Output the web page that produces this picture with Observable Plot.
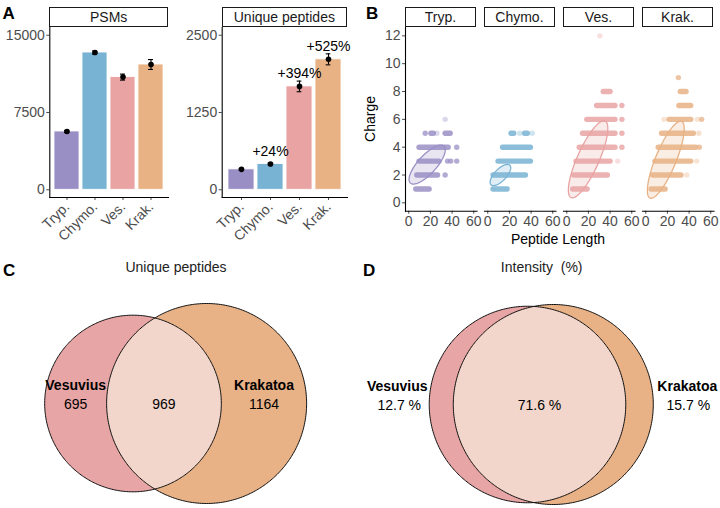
<!DOCTYPE html>
<html><head><meta charset="utf-8">
<script src="https://cdn.jsdelivr.net/npm/d3@7"></script>
<script src="https://cdn.jsdelivr.net/npm/@observablehq/plot@0.6"></script>
<style>
body{margin:0;background:#fff;}
#fig{position:relative;width:720px;height:508px;font-family:"Liberation Sans",Arial,sans-serif;overflow:hidden;background:#fff;}
#fig svg{position:absolute;}
.strip{position:absolute;box-sizing:border-box;border:1px solid #1a1a1a;background:#fff;font-size:14px;color:#1a1a1a;text-align:center;line-height:18px;height:20px;top:7px;}
.letter{position:absolute;font-weight:bold;font-size:17px;line-height:17px;color:#000;}
.txt{position:absolute;font-size:14px;line-height:14px;color:#000;white-space:nowrap;}
</style></head>
<body><div id="fig"></div>
<script>
// ---------- DATA ----------
const cats = ["Tryp.", "Chymo.", "Ves.", "Krak."];
const catColors = ["#9A8FC5", "#78B3D3", "#E9A3A3", "#E8B285"];
const psmMean = [5657, 13321, 10934, 12157];
const psmErr = [100, 150, 290, 480];
const pepMean = [330, 417, 1672, 2110];
const pepErr = [15, 15, 86, 89];
const pepLabel = ["", "+24%", "+394%", "+525%"];
const psmTicks = [0, 7500, 15000];
const pepTicks = [0, 1250, 2500];

// Panel B: charge bands [facet, charge, lengthFrom, lengthTo]
const chargeBands = [
  [0,1,6.5,18.8],[0,2,7.4,26.6],[0,3,9.5,27.9],[0,4,9.5,36.4],[0,5,20.5,22.7],[0,5,33.6,38.2],
  [1,1,4.9,17.9],[1,2,4.9,34.8],[1,3,9.5,39.4],[1,4,13.7,39.4],[1,5,21.5,24],[1,5,34,36.5],
  [2,1,5.5,18.8],[2,2,6.4,37.5],[2,3,8.5,40],[2,4,11.5,44.5],[2,5,14.6,44.5],[2,6,18.5,44.5],[2,7,27.6,44.5],[2,8,33.7,40],
  [3,1,4.9,17.9],[3,2,6.4,32.5],[3,3,8.5,41.5],[3,4,11.5,46],[3,5,14.6,44],[3,6,21.5,41.5],[3,7,30.6,41.5],[3,8,31.9,37.2]
];
// isolated points [facet, charge, length, opacity]
const chargePoints = [
  [0,2,33.6,0.75],[0,3,35.8,0.75],[0,3,38.8,0.75],[0,3,44.3,0.75],[0,4,44.3,0.75],[0,5,15.2,0.75],[0,5,26,0.35],[0,6,33.6,0.35],
  [1,5,29.5,0.35],[1,5,41,0.35],
  [2,3,47,0.35],[2,4,50.9,0.8],[2,5,50.9,0.8],[2,6,50.9,0.8],[2,7,50.9,0.8],[2,12,30.6,0.35],
  [3,2,37.9,0.35],[3,3,47,0.35],[3,4,49.5,0.75],[3,5,49,0.4],[3,6,16.8,0.35],[3,6,47.5,0.35],[3,6,51.6,0.75],[3,9,30.1,0.75]
];
const ellCenterX = [17, 11.7, 19.7, 18.5];
const ellCenterY = [2.75, 2.0, 3.13, 3.1];
const ellHalfX = [16.7, 9.5, 18.2, 17];
const ellHalfY = [1.4, 0.76, 2.77, 2.77];
const ellRho = [0.76, 0.68, 0.8, 0.8];
const lengthTicks = [0, 20, 40, 60];
const chargeTicks = [0, 2, 4, 6, 8, 10, 12];

// Panels C/D: Venn
const vennNames = ["Vesuvius", "Krakatoa"];
const pepOnly = [695, 1164];
const pepShared = 969;
const intOnly = [12.7, 15.7];
const intShared = 71.6;
const vennFill = ["#E8A5A5", "#E8B286"];
const lensFill = "#F2D6CC";

// ---------- HELPERS ----------
const fig = document.getElementById("fig");
const FONT = "Liberation Sans, Arial, sans-serif";
function place(svg, left, top) { svg.style.left = left + "px"; svg.style.top = top + "px"; fig.appendChild(svg); }
function html(cls, text, css) { const d = document.createElement("div"); d.className = cls; d.textContent = text; Object.assign(d.style, css); fig.appendChild(d); return d; }
const baseStyle = {background: "transparent", fontFamily: FONT, fontSize: "14px", color: "#4D4D4D", overflow: "visible"};

// ---------- PANEL A ----------
function barPanel(means, errs, labels, ticks, left, areaL, areaR, title) {
  const data = cats.map((c, i) => ({cat: c, mean: means[i], err: errs[i], label: labels ? labels[i] : "", color: catColors[i]}));
  const top = ticks[ticks.length - 1];
  const W = areaR - areaL, ml = areaL - left, mr = 3;
  const bw = W / 4.2 * 0.9, inset = (bw - 5.5) / 2;
  const svg = Plot.plot({
    width: ml + W + mr, height: 240, marginLeft: ml, marginRight: mr, marginTop: 27, marginBottom: 43,
    style: baseStyle,
    x: {domain: cats, paddingInner: 0.1, paddingOuter: 0.15, tickRotate: -45, tickSize: 3, tickPadding: 4, label: null},
    y: {domain: [-top * 0.05, top * 1.05], ticks: ticks, tickFormat: d => String(d), tickSize: 3, tickPadding: 2, label: null},
    color: {type: "identity"},
    marks: [
      Plot.barY(data, {x: "cat", y: "mean", fill: "color", stroke: "white", strokeWidth: 0.8}),
      Plot.ruleX(data, {x: "cat", y1: d => d.mean - d.err, y2: d => d.mean + d.err, stroke: "black", strokeWidth: 1.1}),
      Plot.tickY(data, {x: "cat", y: d => d.mean - d.err, insetLeft: inset, insetRight: inset, stroke: "black", strokeWidth: 1.1}),
      Plot.tickY(data, {x: "cat", y: d => d.mean + d.err, insetLeft: inset, insetRight: inset, stroke: "black", strokeWidth: 1.1}),
      Plot.dot(data, {x: "cat", y: "mean", r: 2.8, fill: "black"}),
      Plot.text(data.filter(d => d.label), {x: "cat", y: "mean", text: "label", dy: -12.5, fill: "black", fontSize: 14}),
      Plot.frame({anchor: "left", stroke: "black", strokeWidth: 1.1}),
      Plot.frame({anchor: "bottom", stroke: "black", strokeWidth: 1.1})
    ]
  });
  place(svg, left, 0);
  html("strip", title, {left: areaL + "px", width: (W) + "px"});
}
barPanel(psmMean, psmErr, null, psmTicks, 0, 49.3, 168, "PSMs");
barPanel(pepMean, pepErr, pepLabel, pepTicks, 172, 221.7, 347, "Unique peptides");

// ---------- PANEL B ----------
for (let k = 0; k < 4; k++) {
  const areaL = 404.7 + 79 * k, W = 71.5, ml = 50, mr = 12;
  const col = catColors[k];
  const bands = chargeBands.filter(d => d[0] === k);
  const pts = chargePoints.filter(d => d[0] === k);
  const ell = d3.range(0, 360, 3).map(a => {
    const t = a * Math.PI / 180;
    return {x: ellCenterX[k] + ellHalfX[k] * Math.cos(t),
            y: ellCenterY[k] + ellHalfY[k] * (ellRho[k] * Math.cos(t) + Math.sqrt(1 - ellRho[k] ** 2) * Math.sin(t))};
  });
  const marks = [
    Plot.link(bands, {x1: d => d[2], x2: d => d[3], y1: d => d[1], y2: d => d[1], stroke: col, strokeWidth: 5.4, strokeLinecap: "round", strokeOpacity: 0.85}),
    Plot.dot(pts, {x: d => d[2], y: d => d[1], r: 2.7, fill: col, fillOpacity: d => d[3], stroke: "none"}),
    Plot.line(ell, {x: "x", y: "y", curve: "linear-closed", fill: col, fillOpacity: 0.22, stroke: col, strokeWidth: 1.3}),
    Plot.frame({anchor: "bottom", stroke: "black", strokeWidth: 1.1})
  ];
  if (k === 0) marks.push(Plot.frame({anchor: "left", stroke: "black", strokeWidth: 1.1}));
  const svg = Plot.plot({
    width: ml + W + mr, height: 235, marginLeft: ml, marginRight: mr, marginTop: 27, marginBottom: 24.3,
    style: baseStyle,
    x: {domain: [-3, 63], ticks: lengthTicks, tickSize: 3, tickPadding: 2, label: null},
    y: {domain: [-0.6, 12.6], ticks: chargeTicks, tickSize: 3, tickPadding: 2, label: null, axis: k === 0 ? "left" : null},
    marks
  });
  place(svg, areaL - ml, 0);
  html("strip", cats[k], {left: areaL + "px", width: W + "px"});
}
html("txt", "Charge", {left: "370px", top: "119px", transform: "translate(-50%,-50%) rotate(-90deg)"});
html("txt", "Peptide Length", {left: "458px", width: "200px", textAlign: "center", top: "232px"});

// ---------- PANELS C & D ----------
function lensArea(r1, r2, d) {
  if (d >= r1 + r2) return 0;
  if (d <= Math.abs(r1 - r2)) return Math.PI * Math.min(r1, r2) ** 2;
  const a1 = r1 * r1 * Math.acos((d * d + r1 * r1 - r2 * r2) / (2 * d * r1));
  const a2 = r2 * r2 * Math.acos((d * d + r2 * r2 - r1 * r1) / (2 * d * r2));
  const a3 = 0.5 * Math.sqrt((-d + r1 + r2) * (d + r1 - r2) * (d - r1 + r2) * (d + r1 + r2));
  return a1 + a2 - a3;
}
function solveD(r1, r2, target) {
  let lo = Math.abs(r1 - r2) + 1e-9, hi = r1 + r2;
  for (let i = 0; i < 100; i++) { const m = (lo + hi) / 2; if (lensArea(r1, r2, m) > target) lo = m; else hi = m; }
  return (lo + hi) / 2;
}
function venn(only, shared, fmt, left, cxPx, cyPx, outside) {
  const W = 360, H = 233;
  const r1 = Math.sqrt((only[0] + shared) / Math.PI), r2 = Math.sqrt((only[1] + shared) / Math.PI);
  const d = solveD(r1, r2, shared);
  const s = 100 / Math.max(r1, r2);
  const xDom = [-cxPx / s, (W - cxPx) / s], yDom = [-(H - cyPx) / s, cyPx / s];
  const circ = (cx, r) => d3.range(0, 360, 1).map(a => ({x: cx + r * Math.cos(a * Math.PI / 180), y: r * Math.sin(a * Math.PI / 180)}));
  const a = (d * d + r1 * r1 - r2 * r2) / (2 * d), h = Math.sqrt(r1 * r1 - a * a);
  const t1 = Math.atan2(h, a), t2 = Math.atan2(h, d - a);
  const lens = [];
  for (let i = 0; i <= 90; i++) { const t = -t1 + 2 * t1 * i / 90; lens.push({x: r1 * Math.cos(t), y: r1 * Math.sin(t)}); }
  for (let i = 0; i <= 90; i++) { const t = Math.PI - t2 + 2 * t2 * i / 90; lens.push({x: d + r2 * Math.cos(t), y: r2 * Math.sin(t)}); }
  const c1 = circ(0, r1), c2 = circ(d, r2);
  const midX = ((d - r2) + r1) / 2;
  let xV, xK, dxVn, dxVv, dxKn, dxKv;
  if (!outside) {
    xV = ((-r1) + (d - r2)) / 2; xK = (r1 + (d + r2)) / 2;
    dxVn = 0; dxVv = 0; dxKn = 0; dxKv = 0;
  } else {
    xV = -r1; xK = d + r2;
    dxVn = -32; dxVv = -30; dxKn = 34; dxKv = 35;
  }
  const txt = (x, t, dx, dy, bold) => Plot.text([t], {x: () => x, y: () => 0, text: d => d, dx, dy, fontWeight: bold ? "bold" : "normal", fontSize: 14, fill: "#000"});
  const svg = Plot.plot({
    width: W, height: H, margin: 0,
    style: {...baseStyle, color: "#000"},
    x: {domain: xDom, axis: null}, y: {domain: yDom, axis: null},
    marks: [
      Plot.line(c1, {x: "x", y: "y", curve: "linear-closed", fill: vennFill[0], stroke: "none"}),
      Plot.line(c2, {x: "x", y: "y", curve: "linear-closed", fill: vennFill[1], stroke: "none"}),
      Plot.line(lens, {x: "x", y: "y", curve: "linear-closed", fill: lensFill, stroke: "none"}),
      Plot.line(c1, {x: "x", y: "y", curve: "linear-closed", stroke: "#111", strokeWidth: 1}),
      Plot.line(c2, {x: "x", y: "y", curve: "linear-closed", stroke: "#111", strokeWidth: 1}),
      txt(xV, vennNames[0], dxVn, -18, true),
      txt(xV, fmt(only[0]), dxVv, 1, false),
      txt(midX, fmt(shared), 0, 1, false),
      txt(xK, vennNames[1], dxKn, -18, true),
      txt(xK, fmt(only[1]), dxKv, 1, false)
    ]
  });
  place(svg, left, 275);
}
venn(pepOnly, pepShared, v => String(v), 0, 132.5, 128, false);
venn(intOnly, intShared, v => v.toFixed(1) + " %", 360, 527 - 360, 129, true);
html("txt", "Unique peptides", {left: "76px", width: "200px", textAlign: "center", top: "259.6px", color: "#222"});
html("txt", "Intensity  (%)", {left: "441.7px", width: "200px", textAlign: "center", top: "259.6px", color: "#222", whiteSpace: "pre"});

// Panel letters
html("letter", "A", {left: "2.5px", top: "5px"});
html("letter", "B", {left: "366px", top: "5px"});
html("letter", "C", {left: "3px", top: "262px"});
html("letter", "D", {left: "363px", top: "262px"});
</script></body></html>
